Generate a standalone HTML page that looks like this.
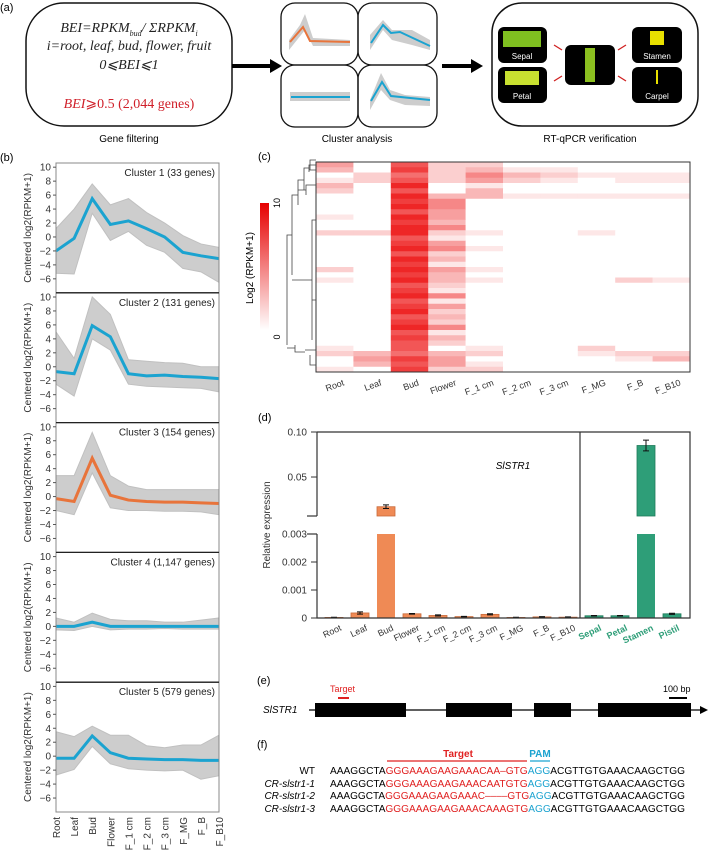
<!DOCTYPE html>
<html><head><meta charset="utf-8"><style>
html,body{margin:0;padding:0;background:#fff;}
svg{display:block;font-family:"Liberation Sans",sans-serif;}
</style></head><body>
<svg id="fig" width="709" height="853" viewBox="0 0 709 853" xmlns="http://www.w3.org/2000/svg">
<g>
<text x="0" y="11" font-size="11">(a)</text>
<rect x="26" y="3" width="206" height="123" rx="38" fill="none" stroke="#111" stroke-width="1.5"/>
<g font-family="Liberation Serif,serif" font-style="italic" font-size="14" text-anchor="middle" fill="#222">
<text x="129" y="32">BEI=RPKM<tspan font-size="8" dy="4">bud</tspan><tspan dy="-4">/ ΣRPKM</tspan><tspan font-size="8" dy="4">i</tspan></text>
<text x="129" y="50">i=root, leaf, bud, flower, fruit</text>
<text x="129" y="69">0⩽BEI⩽1</text>
<text x="129" y="108" fill="#d0202a">BEI<tspan font-style="normal">⩾0.5 (2,044 genes)</tspan></text>
</g>
<text x="129" y="142" font-size="10" text-anchor="middle">Gene filtering</text>
<line x1="232" y1="66" x2="272" y2="66" stroke="#000" stroke-width="4"/>
<polygon points="270,59 282,66 270,73" fill="#000"/>
<g stroke="#111" stroke-width="1.3" fill="none">
<rect x="281" y="3" width="77" height="62" rx="14"/><rect x="358" y="3" width="79" height="62" rx="14"/>
<rect x="281" y="65" width="77" height="62" rx="14"/><rect x="358" y="65" width="79" height="62" rx="14"/>
</g>
<g fill="#cdcdcd" stroke="none">
<polygon points="289,40 300,25 305,14 313,38 350,40 350,46 313,46 305,30 289,50"/>
<polygon points="370,35 383,20 392,30 412,30 430,40 430,50 412,45 392,40 383,30 370,50"/>
<polygon points="290,92 350,92 350,101 290,101"/>
<polygon points="370,100 381,73 390,90 405,95 430,97 430,106 405,105 390,100 381,90 370,110"/>
</g>
<g fill="none" stroke-width="2">
<polyline points="290,42 303,27 310,41 350,42" stroke="#e8743b"/>
<polyline points="371,43 383,25 391,33 400,32 430,46" stroke="#1ba3d0"/>
<polyline points="291,97 350,97" stroke="#1ba3d0"/>
<polyline points="371,101 382,82 391,96 430,100" stroke="#1ba3d0"/>
</g>
<text x="357" y="142" font-size="10" text-anchor="middle">Cluster analysis</text>
<line x1="442" y1="66" x2="473" y2="66" stroke="#000" stroke-width="4"/>
<polygon points="471,59 483,66 471,73" fill="#000"/>
<rect x="492" y="3" width="206" height="123" rx="30" fill="none" stroke="#111" stroke-width="1.5"/>
<g font-size="8" fill="#fff" text-anchor="middle">
<rect x="498" y="27" width="49" height="36" rx="6" fill="#000"/><rect x="503" y="31" width="38" height="16" fill="#7fbf20"/><text x="522" y="59">Sepal</text>
<rect x="498" y="67" width="49" height="36" rx="6" fill="#000"/><rect x="505" y="71" width="34" height="14" fill="#c8e030"/><text x="522" y="99">Petal</text>
<rect x="565" y="45" width="50" height="40" rx="6" fill="#000"/><rect x="585" y="48" width="10" height="34" fill="#8cc020"/>
<rect x="632" y="27" width="50" height="36" rx="6" fill="#000"/><rect x="650" y="31" width="14" height="14" fill="#e8e000"/><text x="657" y="59">Stamen</text>
<rect x="632" y="67" width="50" height="36" rx="6" fill="#000"/><rect x="656" y="70" width="2" height="14" fill="#e8e000"/><text x="657" y="99">Carpel</text>
</g>
<g stroke="#d02020" stroke-width="1.3"><line x1="554" y1="45" x2="562" y2="50"/><line x1="554" y1="81" x2="562" y2="76"/><line x1="618" y1="50" x2="626" y2="45"/><line x1="618" y1="76" x2="626" y2="81"/></g>
<text x="590" y="142" font-size="10" text-anchor="middle">RT-qPCR verification</text>
</g>
<g id="pb"><text x="0" y="161" font-size="11">(b)</text></g>
<g id="pc"><text x="258" y="160" font-size="11">(c)</text></g>
<g id="pd"><text x="258" y="421" font-size="11">(d)</text></g>
<g>
<text x="257" y="684" font-size="11">(e)</text>
<text x="330" y="692" font-size="9" fill="#e02020">Target</text>
<line x1="338" y1="698" x2="349" y2="698" stroke="#e02020" stroke-width="2"/>
<text x="663" y="692" font-size="9">100 bp</text>
<line x1="669" y1="698" x2="687" y2="698" stroke="#000" stroke-width="2"/>
<text x="263" y="713" font-size="10" font-style="italic">SlSTR1</text>
<line x1="309" y1="710" x2="702" y2="710" stroke="#000" stroke-width="1.2"/>
<polygon points="700,706 708,710 700,714" fill="#000"/>
<g fill="#000">
<rect x="315" y="703" width="91" height="14"/><rect x="446" y="703" width="66" height="14"/><rect x="534" y="703" width="37" height="14"/><rect x="598" y="703" width="93" height="14"/>
</g>
</g>
<g font-size="10">
<text x="257" y="748" font-size="11">(f)</text>
<text x="458" y="757" font-weight="bold" fill="#e02020" text-anchor="middle">Target</text>
<line x1="387" y1="761" x2="527" y2="761" stroke="#e02020" stroke-width="1.3"/>
<text x="540" y="757" font-weight="bold" fill="#1ba3d0" text-anchor="middle">PAM</text>
<line x1="530" y1="761" x2="550" y2="761" stroke="#1ba3d0" stroke-width="1.3"/>
<g text-anchor="end">
<text x="315" y="774">WT</text>
<text x="315" y="787" font-style="italic">CR-slstr1-1</text>
<text x="315" y="799" font-style="italic">CR-slstr1-2</text>
<text x="315" y="812" font-style="italic">CR-slstr1-3</text>
</g>
<text x="330" y="774" textLength="355" lengthAdjust="spacingAndGlyphs">AAAGGCTA<tspan fill="#e02020">GGGAAAGAAGAAACAA–GTG</tspan><tspan fill="#1ba3d0">AGG</tspan>ACGTTGTGAAACAAGCTGG</text>
<text x="330" y="787" textLength="355" lengthAdjust="spacingAndGlyphs">AAAGGCTA<tspan fill="#e02020">GGGAAAGAAGAAACAATGTG</tspan><tspan fill="#1ba3d0">AGG</tspan>ACGTTGTGAAACAAGCTGG</text>
<text x="330" y="799" textLength="355" lengthAdjust="spacingAndGlyphs">AAAGGCTA<tspan fill="#e02020">GGGAAAGAAGAAAC––––GTG</tspan><tspan fill="#1ba3d0">AGG</tspan>ACGTTGTGAAACAAGCTGG</text>
<text x="330" y="812" textLength="355" lengthAdjust="spacingAndGlyphs">AAAGGCTA<tspan fill="#e02020">GGGAAAGAAGAAACAAAGTG</tspan><tspan fill="#1ba3d0">AGG</tspan>ACGTTGTGAAACAAGCTGG</text>
</g>
</svg>
<script>
const tissues = ["Root","Leaf","Bud","Flower","F_1 cm","F_2 cm","F_3 cm","F_MG","F_B","F_B10"];
const clusterTitles = ["Cluster 1 (33 genes)","Cluster 2 (131 genes)","Cluster 3 (154 genes)","Cluster 4 (1,147 genes)","Cluster 5 (579 genes)"];
const clusterMeans = [
 [-2,-0.2,5.5,1.8,2.3,1.2,0,-2.2,-2.7,-3.1],
 [-0.7,-1,5.9,4.3,-1,-1.3,-1.2,-1.4,-1.5,-1.7],
 [-0.3,-0.7,5.5,0.2,-0.5,-0.7,-0.8,-0.8,-0.9,-1],
 [0,0,0.6,0,0,0,0,0,0,0],
 [-0.3,-0.3,2.9,0.5,-0.3,-0.4,-0.5,-0.5,-0.6,-0.6]];
const clusterMax = [
 [1.2,4,7.6,4.6,5.5,3.5,2,0.2,-1,-1.5],
 [5,1.2,10,7.5,1,0.8,0.6,0.5,0,0],
 [3,3,9.2,3,1.5,1,1,1,1,1],
 [1.2,0.6,1.9,1,0.8,0.8,0.6,0.6,0.9,1.2],
 [3.5,2.8,4.3,3,3,1.5,1.2,1.6,1.6,3]];
const clusterMin = [
 [-5.2,-5.3,3.4,-0.5,0.8,-1.2,-2.2,-4.5,-5,-6.5],
 [-2.5,-4.2,4,2.4,-2.5,-2.8,-2.9,-3,-3.1,-3.6],
 [-2,-2.6,3.4,-1.6,-2,-2,-2.1,-2.1,-2.2,-2.6],
 [-0.5,-0.6,0,-0.5,-0.4,-0.4,-0.3,-0.4,-0.4,-0.4],
 [-2.7,-1.9,1.4,-1.1,-1.8,-2,-2.1,-2,-3.3,-2.8]];
const clusterColors = ["#1ba3d0","#1ba3d0","#e8743b","#1ba3d0","#1ba3d0"];
const bTicks = [10,8,6,4,2,0,-2,-4,-6];

const heatCols = ["Root","Leaf","Bud","Flower","F_1 cm","F_2 cm","F_3 cm","F_MG","F_B","F_B10"];
const heatRows = ["4072200000","3082311000","0262532111","1272421011","3090100000","2070300000","0093311111","0085000000","0095000000","0074000000",
"1094000000","0083000000","0095000000","2292100100","0071000000","0084000000","0095100000","0072000000","0093000000","0081000000",
"2094100000","0083000000","1093100021","0072000000","0081000000","0095000000","0071000000","0084000000","0092000000","0073000000",
"0082000000","0095000000","0071000000","0083000000","0072000000","1070100200","2363200122","0484000013","0374100000","1082200000"];

const qCats = ["Root","Leaf","Bud","Flower","F_1 cm","F_2 cm","F_3 cm","F_MG","F_B","F_B10","Sepal","Petal","Stamen","Pistil"];
const qVals = [0.00002,0.00018,0.017,0.00015,0.00009,0.00005,0.00013,0.00002,0.00004,0.00003,0.00008,0.00008,0.085,0.00015];
const qErr = [0.000005,0.00004,0.002,0.00001,0.00002,0.00001,0.00002,0.000005,0.00001,0.00001,0.00001,0.00001,0.006,0.00002];
const qGroup = [0,0,0,0,0,0,0,0,0,0,1,1,1,1];
const qTicksLow = [0,0.001,0.002,0.003];
const qTicksHigh = [0.05,0.10];

const NS="http://www.w3.org/2000/svg";
function mk(tag,attrs,parent,txt){const e=document.createElementNS(NS,tag);for(const k in attrs)e.setAttribute(k,attrs[k]);if(txt!==undefined)e.textContent=txt;parent.appendChild(e);return e;}

(function(){
 const g=document.getElementById('pb');
 const L=56,R=219,top0=163,ph=129.8,yMax=10.6,yMin=-8;
 const xS=i=>L+(R-L)*i/(tissues.length-1);
 for(let c=0;c<5;c++){
  const t=top0+c*ph;
  const yS=v=>t+(yMax-v)/(yMax-yMin)*ph;
  const pg=mk('g',{},g);
  
  
  let pts=clusterMax[c].map((v,i)=>xS(i)+','+yS(v));
  pts=pts.concat(clusterMin[c].map((v,i)=>xS(i)+','+yS(v)).reverse());
  const band=mk('polygon',{points:pts.join(' '),fill:'#cdcdcd',stroke:'#c0c0c0','stroke-width':1},pg);
  
  
  const mean=mk('polyline',{points:clusterMeans[c].map((v,i)=>xS(i)+','+yS(v)).join(' '),fill:'none',stroke:clusterColors[c],'stroke-width':3},pg);
  
  
  mk('rect',{x:L,y:t,width:R-L,height:ph,fill:'none',stroke:'#888','stroke-width':1},pg);
  if(c>0) mk('line',{x1:L,x2:R,y1:t,y2:t,stroke:'#222','stroke-width':1.3},pg);
  bTicks.forEach(v=>{
   mk('line',{x1:L-3,x2:L,y1:yS(v),y2:yS(v),stroke:'#555'},pg);
   const tl=mk('text',{x:L-5,y:yS(v)+3.5,'font-size':10,'text-anchor':'end',fill:'#333'},pg,String(v).replace('-','−'));
   
   
  });
  const tt=mk('text',{x:R-4,y:t+13,'font-size':10,'text-anchor':'end',fill:'#222'},pg,clusterTitles[c]);
  
  
  const yl=mk('text',{x:0,y:0,'font-size':10,'text-anchor':'middle',fill:'#333',transform:`translate(31,${t+ph/2}) rotate(-90)`},pg,'Centered log2(RPKM+1)');
  
  
 }
 const bottom=top0+5*ph;
 tissues.forEach((n,i)=>{
  const tx=mk('text',{x:0,y:0,'font-size':10,'text-anchor':'end',fill:'#333',transform:`translate(${xS(i)+4},${bottom+5}) rotate(-90)`},g,n);
  
  
 });
})();

(function(){
 const g=document.getElementById('pc');
 const L=316,R=690,T=162,B=372;
 const cw=(R-L)/heatCols.length, rh=(B-T)/heatRows.length;
 heatRows.forEach((row,r)=>{
  for(let c=0;c<heatCols.length;c++){
   const v=(+row[c]/9)*0.85;
   const col=`rgb(${Math.round(255-20*v)},${Math.round(255*(1-v))},${Math.round(255*(1-v))})`;
   const cell=mk('rect',{x:L+c*cw,y:T+r*rh,width:cw+0.3,height:rh+0.3,fill:col},g);
   
   
  }
 });
 mk('rect',{x:L,y:T,width:R-L,height:B-T,fill:'none',stroke:'#333','stroke-width':1},g);
 const d=mk('path',{d:'M316,165 H309 V172 M316,170 H309 M309,168 H304 V190 M316,185 H306 V195 M304,180 H298 V205 M306,190 H298 M298,195 H292 V275 M316,220 H312 V340 M316,300 H312 M312,280 H292 M292,235 H287 V345 M316,365 H310 V355 M316,350 H305 M305,352 H295 V345 M295,348 H287 M316,160 H310 V170',fill:'none',stroke:'#444','stroke-width':0.8},g);
 
 
 const defs=mk('defs',{},g);
 const lg=mk('linearGradient',{id:'cb',x1:0,y1:1,x2:0,y2:0},defs);
 mk('stop',{offset:0,'stop-color':'#fff'},lg);mk('stop',{offset:1,'stop-color':'#e60000'},lg);
 const cb=mk('rect',{x:260,y:203,width:9,height:127,fill:'url(#cb)'},g);
 
 
 mk('text',{x:0,y:0,'font-size':9,'text-anchor':'middle',transform:'translate(280,203) rotate(-90)'},g,'10');
 mk('text',{x:0,y:0,'font-size':9,'text-anchor':'middle',transform:'translate(280,337) rotate(-90)'},g,'0');
 const ct=mk('text',{x:0,y:0,'font-size':10,'text-anchor':'middle',transform:'translate(253,268) rotate(-90)'},g,'Log2 (RPKM+1)');
 
 
 heatCols.forEach((n,i)=>{
  const tx=mk('text',{x:0,y:0,'font-size':9,'text-anchor':'end',fill:'#333',transform:`translate(${L+cw*(i+0.5)+10},${B+13}) rotate(-20)`},g,n);
  
  
 });
})();

(function(){
 const g=document.getElementById('pd');
 const L=317,R=690,T=432,Y0=618,divX=580,c0=334,step=26,bw=18;
 const lowTop=534, highBot=516, highLowV=0.0067;
 function yS(v){
  if(v<=0.003) return Y0-(Y0-lowTop)*v/0.003;
  return highBot-(highBot-T)*(v-highLowV)/(0.10-highLowV);
 }
 qVals.forEach((v,i)=>{
  const cx=c0+step*i, col=qGroup[i]?'#2e9e78':'#ef8a55', st=qGroup[i]?'#1f7a5a':'#c86a3a';
  if(v<=0.003){
   const b=mk('rect',{x:cx-bw/2,y:yS(v),width:bw,height:Y0-yS(v),fill:col,stroke:st,'stroke-width':0.8},g);
   
   
  } else {
   const b=mk('rect',{x:cx-bw/2,y:lowTop,width:bw,height:Y0-lowTop,fill:col},g);
   
   
   const b2=mk('rect',{x:cx-bw/2,y:yS(v),width:bw,height:highBot-yS(v),fill:col,stroke:st,'stroke-width':0.8},g);
   
   
  }
  const e=v+qErr[i], lo=Math.max(0,v-qErr[i]);
  const eb=mk('path',{d:`M${cx},${yS(e)} V${yS(lo)} M${cx-3},${yS(e)} H${cx+3} M${cx-3},${yS(lo)} H${cx+3}`,stroke:'#111','stroke-width':1,fill:'none'},g);
  
  
  const tx=mk('text',{x:0,y:0,'font-size':9,'text-anchor':'end',fill:qGroup[i]?'#2e9e78':'#333','font-weight':qGroup[i]?'bold':'normal',transform:`translate(${cx+8},${Y0+12}) rotate(-25)`},g,qCats[i]);
  
  
 });
 mk('path',{d:`M${L},${T} H${R} V${Y0} H${L} V${lowTop} M${L},${highBot} V${T}`,fill:'none',stroke:'#333','stroke-width':1.2},g);
 mk('line',{x1:divX,x2:divX,y1:T,y2:Y0,stroke:'#333','stroke-width':1.2},g);
 mk('line',{x1:L-10,x2:L,y1:highBot,y2:highBot,stroke:'#333','stroke-width':1.2},g);
 mk('line',{x1:L-10,x2:L,y1:lowTop,y2:lowTop,stroke:'#333','stroke-width':1.2},g);
 qTicksLow.concat(qTicksHigh).forEach(v=>{
  const y=yS(v);
  mk('line',{x1:L-6,x2:L,y1:y,y2:y,stroke:'#333'},g);
  const lbl=v===0?'0':(v>=0.05?v.toFixed(2):v.toFixed(3));
  const t=mk('text',{x:L-10,y:y+3.5,'font-size':10,'text-anchor':'end',fill:'#333'},g,lbl);
  
  
 });
 const yl=mk('text',{x:0,y:0,'font-size':10,'text-anchor':'middle',fill:'#333',transform:'translate(270,525) rotate(-90)'},g,'Relative expression');
 
 
 const gt=mk('text',{x:513,y:469,'font-size':10,'font-style':'italic','text-anchor':'middle'},g,'SlSTR1');
 
 
})();
</script>
</body></html>
